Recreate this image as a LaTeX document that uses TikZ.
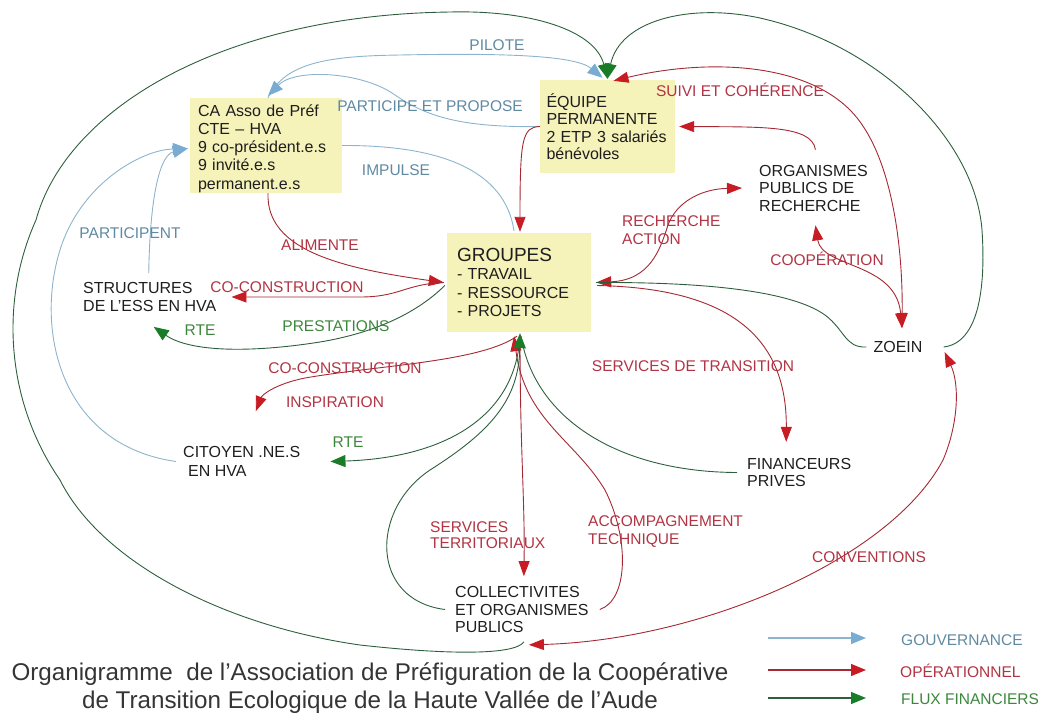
\documentclass[tikz,border=0pt]{standalone}
\usepackage{fontspec}
\setmainfont{Liberation Sans}
\usetikzlibrary{arrows.meta,calc}
\definecolor{boxy}{RGB}{245,242,186}
\definecolor{bline}{RGB}{140,180,205}
\definecolor{bhead}{RGB}{120,172,210}
\definecolor{btxt}{RGB}{95,138,162}
\definecolor{rline}{RGB}{165,40,50}
\definecolor{rhead}{RGB}{200,28,36}
\definecolor{rtxt}{RGB}{178,52,68}
\definecolor{gline}{RGB}{45,95,60}
\definecolor{ghead}{RGB}{25,125,40}
\definecolor{gtxt}{RGB}{60,135,60}
\definecolor{ink}{RGB}{30,30,30}
\begin{document}
\begin{tikzpicture}[x=1pt,y=-1pt,
  ybox/.style={fill=boxy, inner xsep=8pt, inner ysep=2pt, align=left, text=ink, font=\fontsize{16}{18.3}\selectfont},
  txt/.style={inner sep=1pt, align=left, text=ink, font=\fontsize{16}{17.5}\selectfont},
  lab/.style={inner sep=0pt, font=\fontsize{15.5}{18}\selectfont},
  blab/.style={lab, text=btxt},
  rlab/.style={lab, text=rtxt},
  glab/.style={lab, text=gtxt},
  govl/.style={draw=bline, line width=0.9pt},
  opel/.style={draw=rline, line width=0.9pt},
  finl/.style={draw=gline, line width=0.9pt},
  aB/.style={-{Triangle[length=15pt,width=12pt,color=bhead]}},
  aR/.style={-{Triangle[length=15pt,width=11pt,color=rhead]}},
  aRR/.style={{Triangle[length=15pt,width=11pt,color=rhead]}-{Triangle[length=15pt,width=11pt,color=rhead]}},
  aG/.style={-{Triangle[length=15pt,width=12pt,color=ghead]}},
  legl/.style={line width=1.3pt},
  legt/.style={lab, anchor=west, font=\fontsize{15.5}{17}\selectfont},
]
\useasboundingbox (0,0) rectangle (1052,713);

% boxes
\node[ybox, inner ysep=0pt, text width=136pt, minimum height=95pt] (ca) at (266,145.5)
  {\rule{0pt}{17.7pt}CA Asso de Préf\\CTE – HVA\\9 co-président.e.s\\9 invité.e.s\\permanent.e.s};
\node[ybox, inner xsep=6.5pt, text width=122pt, minimum height=93pt, font=\fontsize{16}{17.5}\selectfont] (eq) at (607.5,126.5)
  {ÉQUIPE\\PERMANENTE\\2 ETP 3 salariés\\bénévoles};
\node[ybox, inner xsep=10pt, text width=124pt, minimum height=99pt, font=\fontsize{16}{18.5}\selectfont] (gr) at (519,282.5)
  {{\fontsize{19}{19}\selectfont GROUPES}\\- TRAVAIL\\- RESSOURCE\\- PROJETS};

% plain text nodes
\node[txt, anchor=west] (org) at (758,188) {ORGANISMES\\PUBLICS DE\\RECHERCHE};
\node[txt, anchor=west, font=\fontsize{16}{18}\selectfont] (st) at (82,297) {STRUCTURES\\DE L’ESS EN HVA};
\node[txt] (zo) at (898,347) {ZOEIN};
\node[txt, anchor=west, font=\fontsize{16}{19}\selectfont] (cit) at (182,461.5) {CITOYEN .NE.S\\\hspace*{5pt}EN HVA};
\node[txt, anchor=west] (fi) at (746,472.5) {FINANCEURS\\PRIVES};
\node[txt, anchor=west] (co) at (454,609.5) {COLLECTIVITES\\ET ORGANISMES\\PUBLICS};

% ---------- gouvernance (blue)
\draw[govl,aB] ($(ca.north)+(2,0)$) .. controls (285,62) and (330,56) .. (400,55)
  .. controls (500,53) and (575,55) .. ($(eq.north)+(-5,-2)$);
\draw[govl,aB] (eq.west) .. controls (450,128) and (420,112) .. (392,93)
  .. controls (360,72) and (295,68) .. ($(ca.north)+(2,-2)$);
\draw[govl] (ca.east) .. controls (440,145) and (505,170) .. ($(gr.north)+(-5,-2)$);
\draw[govl,aB] ($(st.north)+(-1,-8)$) .. controls (150,195) and (160,155) .. ($(ca.west)+(-2,3)$);
\draw[govl,aB] ($(cit.west)+(-6,0)$) .. controls (60,445) and (35,330) .. (60,250)
  .. controls (80,185) and (140,150) .. ($(ca.west)+(-2,3)$);

% ---------- operationnel (red)
\draw[opel,aR] ($(ca.south)+(2,0)$) .. controls (266,250) and (340,268) .. ($(gr.west)+(-3,0)$);
\draw[opel,aR] ($(gr.west)+(-3,0)$) .. controls (405,284) and (400,297) .. (360,297) -- ($(st.east)+(14,0)$);
\draw[opel,aR] ($(gr.south)+(-2,4)$) .. controls (480,362) and (380,365) .. (305,378)
  .. controls (275,384) and (262,395) .. ($(cit.north)+(14,-34)$);
\draw[opel,aR] (eq.west) .. controls (522,127) and (520,140) .. ($(gr.north)+(1,-1)$);
\draw[opel,aR] ($(org.north)+(2,-14)$) .. controls (812,125) and (760,127) .. ($(eq.east)+(4,0)$);
\draw[opel,aRR] ($(eq.north)+(6,1)$) .. controls (700,60) and (800,60) .. (850,110)
  .. controls (890,150) and (903,240) .. ($(zo.north)+(4,-12)$);
\draw[opel,aRR] ($(org.south)+(2,13)$) .. controls (822,268) and (896,262) .. ($(zo.north)+(4,-12)$);
\draw[opel,aRR] ($(gr.east)+(5,0)$) .. controls (650,280) and (660,250) .. (668,225)
  .. controls (676,203) and (700,189) .. ($(org.west)+(-16,0)$);
\draw[opel,aR] ($(gr.east)+(6,3)$) .. controls (720,288) and (787,330) .. ($(fi.north)+(-13,-15)$);
\draw[opel,aR] ($(gr.south)+(1,5)$) .. controls (520,450) and (525,500) .. ($(co.north)+(2,-9)$);
\draw[opel,aR] ($(co.east)+(10,0)$) .. controls (628,600) and (630,540) .. (605,490)
  .. controls (575,440) and (525,420) .. ($(gr.south)+(-5,4)$);
\draw[opel,aRR] ($(co.south)+(7,11)$) .. controls (700,640) and (890,560) .. (943,460)
  .. controls (958,425) and (960,385) .. ($(zo.east)+(21,5)$);

% ---------- flux financiers (green)
\draw[finl,aG] ($(co.south)+(2,8)$) .. controls (515,655) and (450,655) .. (360,645)
  .. controls (220,625) and (100,560) .. (60,480)
  .. controls (5,400) and (0,300) .. (36,220)
  .. controls (66,110) and (220,15) .. (450,12)
  .. controls (530,10) and (595,30) .. ($(eq.north)+(0,-1)$);
\draw[finl,aG] ($(zo.east)+(20,0)$) .. controls (978,343) and (986,290) .. (982,230)
  .. controls (975,140) and (880,45) .. (760,18)
  .. controls (690,3) and (620,20) .. ($(eq.north)+(0,-1)$);
\draw[finl] ($(zo.west)+(-6,0)$) .. controls (845,348) and (845,330) .. (825,315)
  .. controls (790,290) and (700,282) .. ($(gr.east)+(5,0)$);
\draw[finl,aG] ($(gr.west)+(-2,3)$) .. controls (420,310) and (380,332) .. (320,342)
  .. controls (250,353) and (190,352) .. ($(st.south)+(4,14)$);
\draw[finl,aG] ($(gr.south)+(1,4)$) .. controls (515,420) and (440,458) .. ($(cit.east)+(29,0)$);
\draw[finl] ($(fi.west)+(-9,0)$) .. controls (620,472) and (535,420) .. ($(gr.south)+(2,4)$);
\draw[finl,aG] ($(co.west)+(-9,0)$) .. controls (370,600) and (370,510) .. (430,470)
  .. controls (490,432) and (519,400) .. ($(gr.south)+(1,1)$);

% ---------- labels
\node[blab] (lpil) at (497,45) {PILOTE};
\node[blab] (lpar) at (430,106) {PARTICIPE ET PROPOSE};
\node[blab] (limp) at (396,170) {IMPULSE};
\node[blab] (lpnt) at (130,233) {PARTICIPENT};
\node[rlab] (lali) at (320,245) {ALIMENTE};
\node[rlab] (lcc1) at (287,287) {CO-CONSTRUCTION};
\node[glab] (lpre) at (336,326) {PRESTATIONS};
\node[glab] (lrt1) at (200,330) {RTE};
\node[rlab] (lcc2) at (345,368) {CO-CONSTRUCTION};
\node[rlab] (lins) at (335,402) {INSPIRATION};
\node[glab] (lrt2) at (348,442) {RTE};
\node[rlab] (lsui) at (740,90) {SUIVI ET COHÉRENCE};
\node[rlab, anchor=west, align=left] (lrec) at (622,230) {RECHERCHE\\ACTION};
\node[rlab] (lcoo) at (827,259) {COOPÉRATION};
\node[rlab] (lstr) at (693,366) {SERVICES DE TRANSITION};
\node[rlab, anchor=west, align=left, font=\fontsize{15.5}{16}\selectfont] (lter) at (430,535) {SERVICES\\TERRITORIAUX};
\node[rlab, anchor=west, align=left, font=\fontsize{15.5}{18}\selectfont] (lacc) at (588,532) {ACCOMPAGNEMENT\\TECHNIQUE};
\node[rlab] (lcon) at (869,557) {CONVENTIONS};

% ---------- title
\node[align=center, text=ink!90, font=\fontsize{24.2}{28}\selectfont] (title) at (370,688)
  {Organigramme\ \ de l’Association de Préfiguration de la Coopérative\\de Transition Ecologique de la Haute Vallée de l’Aude};

% ---------- legend
\coordinate (lg1a) at (768,638); \coordinate (lg1b) at (866,638);
\coordinate (lg2a) at (768,670); \coordinate (lg2b) at (866,670);
\coordinate (lg3a) at (768,698); \coordinate (lg3b) at (866,698);
\draw[legl, draw=bline, -{Triangle[length=15pt,width=12pt,color=bhead]}] (lg1a) -- (lg1b);
\draw[legl, draw=rline, -{Triangle[length=15pt,width=12pt,color=rhead]}] (lg2a) -- (lg2b);
\draw[legl, draw=gline, -{Triangle[length=15pt,width=12pt,color=ghead]}] (lg3a) -- (lg3b);
\node[legt, text=btxt] (lgg) at (901,640) {GOUVERNANCE};
\node[legt, text=rtxt] (lgo) at (900,671) {OPÉRATIONNEL};
\node[legt, text=gtxt] (lgf) at (901,699) {FLUX FINANCIERS};
\end{tikzpicture}
\end{document}
